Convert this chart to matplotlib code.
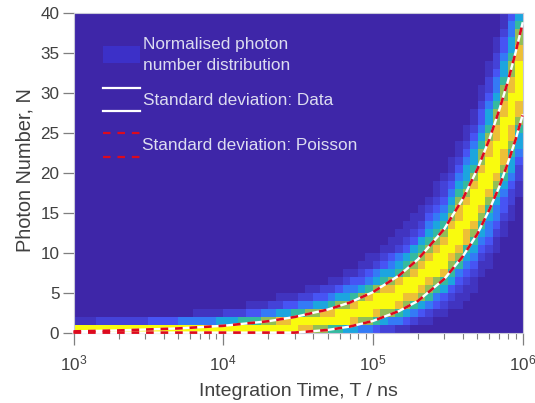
#!/usr/bin/env python
import numpy as np
import matplotlib
matplotlib.use('Agg')
import matplotlib.pyplot as plt
from matplotlib.colors import LinearSegmentedColormap
from matplotlib.patches import Rectangle
from matplotlib.ticker import LogLocator, NullFormatter

plt.rcParams['font.family'] = ['Liberation Sans', 'DejaVu Sans']
plt.rcParams['mathtext.default'] = 'regular'

#
# Distribution, one entry per time bin (20 bins a decade).
# first_row is the N of the first digit, the digits are colour levels.
first_row = [0] * 50 + [3, 3, 4, 5, 7, 8, 10, 12, 14, 17]
column_levels = [
    '91', '91', '91', '92', '92', '92', '92', '92', '92', '92',
    '93', '93', '93', '93', '94', '94', '941', '941', '941', '951',
    '952', '952', '962', '9631', '9631', '9741', '9742', '98521', '98531', '99631',
    '89642', '897421', '797531', '798532', '6986421', '6997531', '59975421',
    '58986431', '479975321', '4799864311', '3689975421', '25799865321',
    '247998754311', '1468998654211', '13578997653211', '024689987653211',
    '0135789987653211', '01246789987654321', '0013467999876543211',
    '00123568999876543221', '1235678999876543211', '112346789998876543211',
    '1123456889998765543211', '11234567899998765543211',
    '112345678999987765433211', '11234456789999887655432211',
    '112344567899998877654432211', '1123345678899998877655433211',
    '11223455678899998877655443', '11223455678899999887765',
]
level_values = [0.0, 0.04, 0.08, 0.13, 0.22, 0.35, 0.5, 0.65, 0.82, 1.0]

#
# Standard deviation curves.
time_ns = [1e3, 2e3, 5e3, 1e4, 2e4, 3e4, 5e4, 7e4, 1e5, 1.5e5, 2e5, 3e5, 4e5,
           5e5, 6e5, 7e5, 8e5, 9e5, 1e6]
upper_n = [0.2, 0.32, 0.57, 0.9, 1.47, 2.0, 2.93, 3.8, 5.1, 7.2, 9.2, 13.0,
           16.8, 20.5, 24.2, 27.9, 31.5, 35.1, 38.7]
lower_n = [0.05, 0.05, 0.05, 0.05, 0.05, 0.05, 0.38, 0.8, 1.5, 2.75, 4.0, 6.75,
           9.6, 12.4, 15.4, 18.3, 21.3, 24.2, 27.2]

y_ticks = [0, 5, 10, 15, 20, 25, 30, 35, 40]
legend_text = ['Normalised photon', 'number distribution',
               'Standard deviation: Data', 'Standard deviation: Poisson']

W, H = 535, 403
LEFT, RIGHT, TOP, BOTTOM = 73.5, 522.5, 13.0, 333.0
TEXT = '#404040'
TICK = '#7f7f7f'
LIGHT = '#dcdcf0'

parula = LinearSegmentedColormap.from_list('parula_ish', [
    (0.00, (0.2422, 0.1504, 0.6603)),
    (0.125, (0.2810, 0.3228, 0.9579)),
    (0.25, (0.1786, 0.5289, 0.9682)),
    (0.375, (0.0900, 0.6800, 0.8500)),
    (0.50, (0.2000, 0.7300, 0.6300)),
    (0.625, (0.5000, 0.7500, 0.3800)),
    (0.75, (0.8500, 0.7200, 0.2000)),
    (0.875, (0.9900, 0.7800, 0.2300)),
    (1.00, (0.9763, 0.9831, 0.0538)),
])


def px_x(x):
    return (x - LEFT) / (RIGHT - LEFT)


def px_y(y):
    return (BOTTOM - y) / (BOTTOM - TOP)


def main():
    fig = plt.figure(figsize=(W / 100, H / 100), dpi=100)
    ax = fig.add_axes([LEFT / W, 1 - BOTTOM / H, (RIGHT - LEFT) / W, (BOTTOM - TOP) / H])
    #
    # Build the grid from the columns.
    grid = np.zeros((40, len(column_levels)))
    for col, digits in enumerate(column_levels):
        for i, d in enumerate(digits):
            grid[first_row[col] + i, col] = level_values[int(d)]
    x_edges = np.logspace(3, 6, len(column_levels) + 1)
    y_edges = np.arange(41)
    ax.pcolormesh(x_edges, y_edges, grid, cmap=parula, vmin=0, vmax=1,
                  shading='flat', edgecolors='none', antialiased=False)
    #
    # Curves.
    for curve in (upper_n, lower_n):
        ax.plot(time_ns, curve, color='white', lw=1.7, clip_on=False, zorder=3)
        ax.plot(time_ns, curve, color='#dd0a1e', lw=1.9, dashes=(2.9, 2.6),
                clip_on=False, zorder=4)
    ax.set_xscale('log')
    ax.set_xlim(1e3, 1e6)
    ax.set_ylim(0, 40)
    ax.set_yticks(y_ticks)
    ax.xaxis.set_major_locator(LogLocator(base=10, numticks=10))
    ax.xaxis.set_minor_locator(LogLocator(base=10, subs=np.arange(2, 10), numticks=10))
    ax.xaxis.set_minor_formatter(NullFormatter())
    ax.tick_params(which='major', length=7.7, width=0.9, color=TICK, labelcolor=TEXT,
                   labelsize=12.3, pad=2.5)
    ax.tick_params(axis='x', which='major', length=8.5, pad=6)
    ax.tick_params(which='minor', length=4, width=0.8, color=TICK)
    for spine in ax.spines.values():
        spine.set_color('#c8c8d8')
        spine.set_linewidth(0.8)
    ax.set_xlabel('Integration Time, T / ns', fontsize=14, color=TEXT, labelpad=7)
    ax.set_ylabel('Photon Number, N', fontsize=14.4, color=TEXT, labelpad=4, y=0.51)
    #
    # Hand drawn legend inside the axes.
    tr = ax.transAxes
    ax.add_patch(Rectangle((px_x(103), px_y(63)), px_x(140) - px_x(103), px_y(46) - px_y(63),
                           transform=tr, facecolor='#3c30c8', edgecolor='none', zorder=5))
    for y in (87.7, 111.0):
        ax.plot([px_x(103), px_x(140)], [px_y(y), px_y(y)], color='white', lw=1.6,
                transform=tr, zorder=5)
    for y in (133.0, 156.7):
        ax.plot([px_x(103), px_x(140)], [px_y(y), px_y(y)], color='#dd0a1e', lw=1.6,
                dashes=(3.4, 3.1), transform=tr, zorder=5)
    ax.text(px_x(143), px_y(44), legend_text[0], transform=tr, color=LIGHT, fontsize=12.4, va='center', zorder=6)
    ax.text(px_x(143), px_y(66), legend_text[1], transform=tr, color=LIGHT, fontsize=12.4, va='center', zorder=6)
    ax.text(px_x(143), px_y(100.5), legend_text[2], transform=tr, color=LIGHT, fontsize=12.4, va='center', zorder=6)
    ax.text(px_x(142), px_y(145), legend_text[3], transform=tr, color=LIGHT, fontsize=12.4, va='center', zorder=6)
    fig.savefig('out.png', dpi=100)


if __name__ == '__main__':
    main()
